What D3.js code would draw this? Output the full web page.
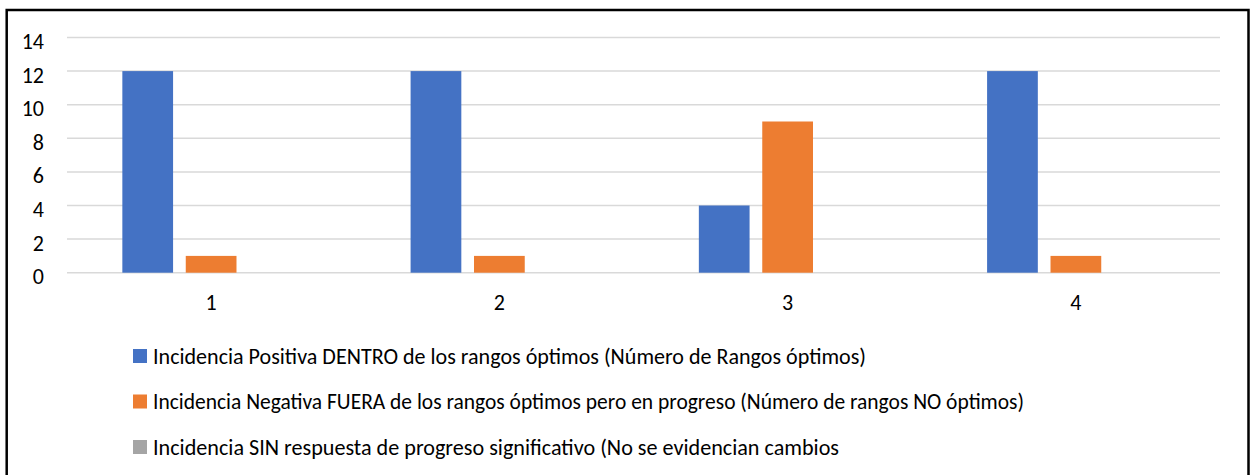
<!DOCTYPE html>
<html>
<head>
<meta charset="utf-8">
<script src="https://cdn.jsdelivr.net/npm/d3@7"></script>
<style>
  html, body { margin: 0; padding: 0; background: #fff; }
  svg { display: block; }
</style>
</head>
<body>
<svg id="chart"></svg>
<script>
const categories = ["1", "2", "3", "4"];
const seriesNames = [
    "Incidencia Positiva DENTRO de los rangos óptimos (Número de Rangos óptimos)",
    "Incidencia Negativa FUERA de los rangos óptimos pero en progreso (Número de rangos NO óptimos)",
    "Incidencia SIN respuesta de progreso significativo (No se evidencian cambios",
];
const positivos = [12, 12, 4, 12];
const negativos = [1, 1, 9, 1];
const sinRespuesta = [0, 0, 0, 0];
const yTicks = [0, 2, 4, 6, 8, 10, 12, 14];

const colors = ["#4472C4", "#ED7D31", "#A5A5A5"];
const font = "Calibri, Carlito, 'Noto Sans', sans-serif";

const width = 1250, height = 475;
const margin = { top: 37.5, right: 30, bottom: 202.3, left: 67 };
const plotW = width - margin.left - margin.right;
const plotH = height - margin.top - margin.bottom;

const values = [positivos, negativos, sinRespuesta];
const data = categories.map((c, i) => ({
    cat: c,
    vals: values.map((v, s) => ({ s, v: v[i] })),
}));

const svg = d3.select("#chart").attr("width", width).attr("height", height);

// outer frame
svg.append("rect")
    .attr("x", 6.7).attr("y", 10)
    .attr("width", 1241.8).attr("height", 480)
    .attr("fill", "none")
    .attr("stroke", "#000")
    .attr("stroke-width", 2.5);

const g = svg.append("g").attr("transform", `translate(${margin.left},${margin.top})`);

// scales
const x0 = d3.scaleBand().domain(categories).range([0, plotW]).paddingInner(0.384).paddingOuter(0.192);
const x1 = d3.scaleBand().domain(d3.range(seriesNames.length)).range([0, x0.bandwidth()]).paddingInner(0.2);
const y = d3.scaleLinear().domain([0, 14]).range([plotH, 0]);

// gridlines
g.append("g")
    .selectAll("line")
    .data(yTicks)
    .enter()
    .append("line")
    .attr("x1", 0).attr("x2", plotW)
    .attr("y1", d => y(d)).attr("y2", d => y(d))
    .attr("stroke", "#D9D9D9")
    .attr("stroke-width", 1.5);

// y labels
g.append("g")
    .selectAll("text")
    .data(yTicks)
    .enter()
    .append("text")
    .attr("x", -23)
    .attr("y", d => y(d) + 11.5)
    .attr("text-anchor", "end")
    .style("font-family", font)
    .style("font-size", "22px")
    .attr("fill", "#000")
    .text(d => d);

// bars
const groups = g.selectAll(".grp")
    .data(data)
    .enter()
    .append("g")
    .attr("transform", d => `translate(${x0(d.cat)},0)`);

groups.selectAll("rect")
    .data(d => d.vals)
    .enter()
    .append("rect")
    .attr("x", d => x1(d.s))
    .attr("width", x1.bandwidth())
    .attr("y", d => y(d.v))
    .attr("height", d => plotH - y(d.v))
    .attr("fill", d => colors[d.s]);

// x labels
g.append("g")
    .selectAll("text")
    .data(categories)
    .enter()
    .append("text")
    .attr("x", d => x0(d) + x0.bandwidth() / 2)
    .attr("y", plotH + 37)
    .attr("text-anchor", "middle")
    .style("font-family", font)
    .style("font-size", "22px")
    .attr("fill", "#000")
    .text(d => d);

// legend
const legendWidths = [713, 871, 686];
const legend = svg.append("g").attr("transform", "translate(133, 349)");
const items = legend.selectAll("g")
    .data(seriesNames)
    .enter()
    .append("g")
    .attr("transform", (d, i) => `translate(0, ${i * 45.5})`);

items.append("rect")
    .attr("width", 14).attr("height", 14)
    .attr("fill", (d, i) => colors[i]);

items.append("text")
    .attr("x", 20)
    .attr("y", 14.5)
    .style("font-family", font)
    .style("font-size", "22px")
    .attr("fill", "#000")
    .attr("textLength", (d, i) => legendWidths[i])
    .attr("lengthAdjust", "spacingAndGlyphs")
    .text(d => d);
</script>
</body>
</html>
